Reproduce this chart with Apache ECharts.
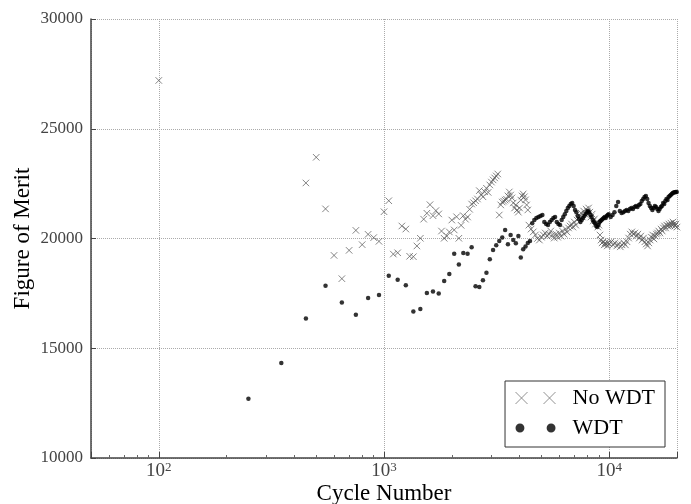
<!DOCTYPE html>
<html>
<head>
<meta charset="utf-8">
<script src="https://cdn.jsdelivr.net/npm/echarts@6/dist/echarts.min.js"></script>
<style>
  html, body { margin: 0; padding: 0; background: #fff; }
  #chart { width: 691px; height: 504px; }
</style>
</head>
<body>
<div id="chart"></div>
<script>
// cycle numbers and figure of merit
const noWdtCycles = [
  100, 450, 500, 550, 600, 650, 700, 750, 800, 850, 900, 950,
  1000, 1050, 1100, 1150, 1200, 1250, 1300, 1350, 1400, 1450, 1500, 1550,
  1600, 1650, 1700, 1750, 1800, 1850, 1900, 1950, 2000, 2050, 2100, 2150,
  2200, 2250, 2300, 2350, 2400, 2450, 2500, 2550, 2600, 2650, 2700, 2750,
  2800, 2850, 2900, 2950, 3000, 3050, 3100, 3150, 3200, 3250, 3300, 3350,
  3400, 3450, 3500, 3550, 3600, 3650, 3700, 3750, 3800, 3850, 3900, 3950,
  4000, 4050, 4100, 4150, 4200, 4250, 4300, 4350,
  4400, 4500, 4600, 4700, 4800, 4900, 5000, 5100, 5200, 5300, 5400, 5500,
  5600, 5700, 5800, 5900, 6000, 6100, 6200, 6300, 6400, 6500, 6600, 6700,
  6800, 6900, 7000, 7100, 7200, 7300, 7400, 7500, 7600, 7700, 7800, 7900,
  8000, 8100, 8200, 8300, 8400, 8500, 8600, 8700, 8800, 8900, 9000, 9100,
  9200, 9300, 9400, 9500, 9600, 9700, 9800, 9900, 10000,
  10200, 10400, 10600, 10800, 11000, 11200, 11400, 11600, 11800, 12000,
  12200, 12400, 12600, 12800, 13000, 13200, 13400, 13600, 13800, 14000,
  14200, 14400, 14600, 14800, 15000, 15200, 15400, 15600, 15800, 16000,
  16200, 16400, 16600, 16800, 17000, 17200, 17400, 17600, 17800, 18000,
  18200, 18400, 18600, 18800, 19000, 19200, 19400, 19600, 19800, 20000
];
const noWdtMerit = [
  27200, 22530, 23700, 21350, 19230, 18170, 19460, 20370, 19720, 20190, 20040, 19870,
  21220, 21720, 19290, 19350, 20570, 20430, 19190, 19170, 19660, 20010, 20880, 21150,
  21540, 21040, 21270, 21120, 20340, 20010, 20110, 20300, 20840, 20390, 20990, 20010,
  20600, 21040, 20880, 20980, 21330, 21570, 21630, 21720, 21800, 22180, 22000, 21900,
  22130, 22290, 22100, 22440, 22570, 22670, 22760, 22850, 22940, 21070, 21530, 21660,
  21700, 21750, 21790, 21940, 22120, 21980, 21850, 21620, 21390, 21530, 21300, 21200,
  21390, 21750, 21940, 22030, 21900, 21760, 21530, 21300,
  20610, 20430, 20300, 20160, 20000, 19930, 20060, 20160, 20250, 20110, 20200, 20340,
  20160, 20020, 20200, 20060, 20250, 20110, 20340, 20200, 20430, 20290, 20480, 20570,
  20660, 20520, 20750, 20610, 20840, 20930, 21020, 21160, 20980, 21250, 21110, 21340,
  21250, 21390, 21200, 20980, 21110, 20800, 20890, 20660, 20750, 20520, 20610, 20160,
  19930, 19800, 19850, 19710, 19800, 19750, 19660, 19800, 19750,
  19850, 19710, 19800, 19660, 19750, 19620, 19710, 19800, 19710, 19850,
  20020, 20200, 20300, 20200, 20250, 20110, 20200, 20020, 20110, 19930,
  20020, 19850, 19750, 19660, 19800, 19930, 20060, 20160, 19980, 20110,
  20200, 20250, 20340, 20250, 20430, 20340, 20480, 20570, 20480, 20610,
  20570, 20660, 20570, 20700, 20610, 20750, 20660, 20570, 20660, 20520
];

const wdtCycles = [
  250, 350, 450, 550, 650, 750, 850, 950, 1050, 1150, 1250, 1350,
  1450, 1550, 1650, 1750, 1850, 1950, 2050, 2150, 2250, 2350, 2450, 2550,
  2650, 2750, 2850, 2950, 3050, 3150, 3250, 3350, 3450, 3550, 3650, 3750,
  3850, 3950, 4050, 4150, 4250, 4350, 4450, 4550, 4650, 4750, 4850, 4950,
  5050, 5150, 5250, 5350, 5450, 5550, 5650, 5750, 5850, 5950, 6050, 6150,
  6250, 6350, 6450, 6550, 6650, 6750, 6850, 6950, 7050, 7150, 7250, 7350,
  7450, 7550, 7650, 7750, 7850, 7950, 8050, 8150, 8250, 8350, 8450, 8550,
  8650, 8750, 8850, 8950, 9050, 9150, 9250, 9350, 9450, 9550, 9650, 9750,
  9850, 9950,
  10150, 10350, 10550, 10750, 10950, 11150, 11350, 11550, 11750, 11950,
  12150, 12350, 12550, 12750, 12950, 13150, 13350, 13550, 13750, 13950,
  14150, 14350, 14550, 14750, 14950, 15150, 15350, 15550, 15750, 15950,
  16150, 16350, 16550, 16750, 16950, 17150, 17350, 17550, 17750, 17950,
  18150, 18350, 18550, 18750, 18950, 19150, 19350, 19550, 19750, 19950
];
const wdtMerit = [
  12700, 14330, 16360, 17850, 17080, 16530, 17290, 17430, 18300, 18120, 17870, 16670,
  16790, 17520, 17580, 17500, 18060, 18380, 19310, 18810, 19340, 19310, 19600, 17820,
  17790, 18100, 18440, 19050, 19480, 19690, 19890, 20040, 20390, 19740, 20160, 19930,
  19780, 20110, 19130, 19510, 19630, 19800, 19890, 20700, 20840, 20930, 20980, 21020,
  21070, 20750, 20660, 20610, 20750, 20840, 20930, 20980, 20750, 20660, 20610, 20840,
  20980, 21110, 21250, 21390, 21480, 21570, 21620, 21480, 21300, 21200, 21020, 20890,
  20750, 20840, 20930, 21020, 21110, 21200, 21250, 21200, 21070, 20980, 20840, 20750,
  20700, 20570, 20520, 20610, 20750, 20800, 20840, 20890, 20930, 20980, 20930, 21020,
  21070, 21110,
  20980, 21070, 21200, 21480, 21660, 21250, 21160, 21200, 21250, 21300,
  21250, 21340, 21390, 21340, 21430, 21480, 21430, 21530, 21570, 21710,
  21800, 21890, 21940, 21800, 21620, 21480, 21390, 21300, 21390, 21480,
  21430, 21340, 21250, 21340, 21430, 21480, 21620, 21570, 21710, 21800,
  21750, 21890, 21940, 21980, 22030, 22070, 22100, 22110, 22120, 22120
];

const seriesNames = ['No WDT', 'WDT'];
const yTicks = [10000, 15000, 20000, 25000, 30000];

const serif = "'Liberation Serif', 'DejaVu Serif', serif";
const crossPath = 'path://M0,0L10,10M10,0L0,10';
// legend icons: two markers side by side, like the matplotlib legend
const crossPair = 'path://M0,0L12,12M12,0L0,12M28,0L40,12M40,0L28,12';
const dotPair = 'path://M0,4A4,4,0,1,0,8,4A4,4,0,1,0,0,4ZM28,4A4,4,0,1,0,36,4A4,4,0,1,0,28,4Z';

const chart = echarts.init(document.getElementById('chart'));

const supFormatter = (v) => {
  const e = Math.log10(v);
  if (Math.abs(e - Math.round(e)) > 1e-6) return '';
  return '10{sup|' + Math.round(e) + '}';
};

const option = {
  animation: false,
  backgroundColor: '#fff',
  grid: { left: 91, right: 14, top: 19, bottom: 46, outerBoundsMode: 'none', containLabel: false },
  xAxis: {
    type: 'log',
    logBase: 10,
    min: 50,
    max: 20000,
    name: 'Cycle Number',
    nameLocation: 'middle',
    nameGap: 24,
    nameMoveOverlap: false,
    nameTextStyle: { fontFamily: serif, fontSize: 23, color: '#000' },
    axisLine: { lineStyle: { color: '#444', width: 1.5 } },
    axisTick: { inside: true, length: 6, lineStyle: { color: '#444' } },
    minorTick: { show: true, splitNumber: 9, length: 3, lineStyle: { color: '#666' } },
    splitLine: { show: true, lineStyle: { color: '#aaa', type: 'dotted', width: 1 } },
    axisLabel: {
      formatter: supFormatter,
      fontFamily: serif,
      fontSize: 19,
      color: '#444',
      margin: 3,
      rich: {
        sup: { fontFamily: serif, fontSize: 13, color: '#444', verticalAlign: 'bottom', padding: [0, 0, 7, 0] }
      }
    }
  },
  yAxis: {
    type: 'value',
    min: 10000,
    max: 30000,
    interval: 5000,
    name: 'Figure of Merit',
    nameLocation: 'middle',
    nameGap: 57,
    nameMoveOverlap: false,
    nameTextStyle: { fontFamily: serif, fontSize: 23, color: '#000' },
    axisLine: { show: true, lineStyle: { color: '#444', width: 1.5 } },
    axisTick: { show: true, inside: true, length: 5, lineStyle: { color: '#444' } },
    splitLine: { show: true, lineStyle: { color: '#aaa', type: 'dotted', width: 1 } },
    axisLabel: {
      fontFamily: serif,
      fontSize: 17,
      color: '#444',
      margin: 8,
      formatter: (v) => (yTicks.includes(v) ? String(v) : '')
    }
  },
  legend: {
    orient: 'vertical',
    right: 26,
    top: 381,
    padding: [6, 10, 8, 10],
    itemGap: 8,
    itemWidth: 40,
    itemHeight: 12,
    backgroundColor: '#fff',
    borderColor: '#333',
    borderWidth: 1,
    borderRadius: 0,
    textStyle: { fontFamily: serif, fontSize: 22, color: '#000', padding: [0, 0, 0, 12] },
    data: [
      { name: seriesNames[0], icon: crossPair, itemStyle: { color: 'transparent', borderColor: '#777', borderWidth: 1 } },
      { name: seriesNames[1], icon: dotPair, itemStyle: { color: '#000', borderWidth: 0 } }
    ]
  },
  series: [
    {
      name: seriesNames[0],
      type: 'scatter',
      symbol: crossPath,
      symbolSize: 6.5,
      itemStyle: { color: 'transparent', borderColor: '#555', borderWidth: 0.9 },
      data: noWdtCycles.map((c, i) => [c, noWdtMerit[i]]),
      z: 2
    },
    {
      name: seriesNames[1],
      type: 'scatter',
      symbol: 'circle',
      symbolSize: 4.5,
      itemStyle: { color: '#000' },
      data: wdtCycles.map((c, i) => [c, wdtMerit[i]]),
      z: 3
    }
  ]
};

chart.setOption(option);
</script>
</body>
</html>
